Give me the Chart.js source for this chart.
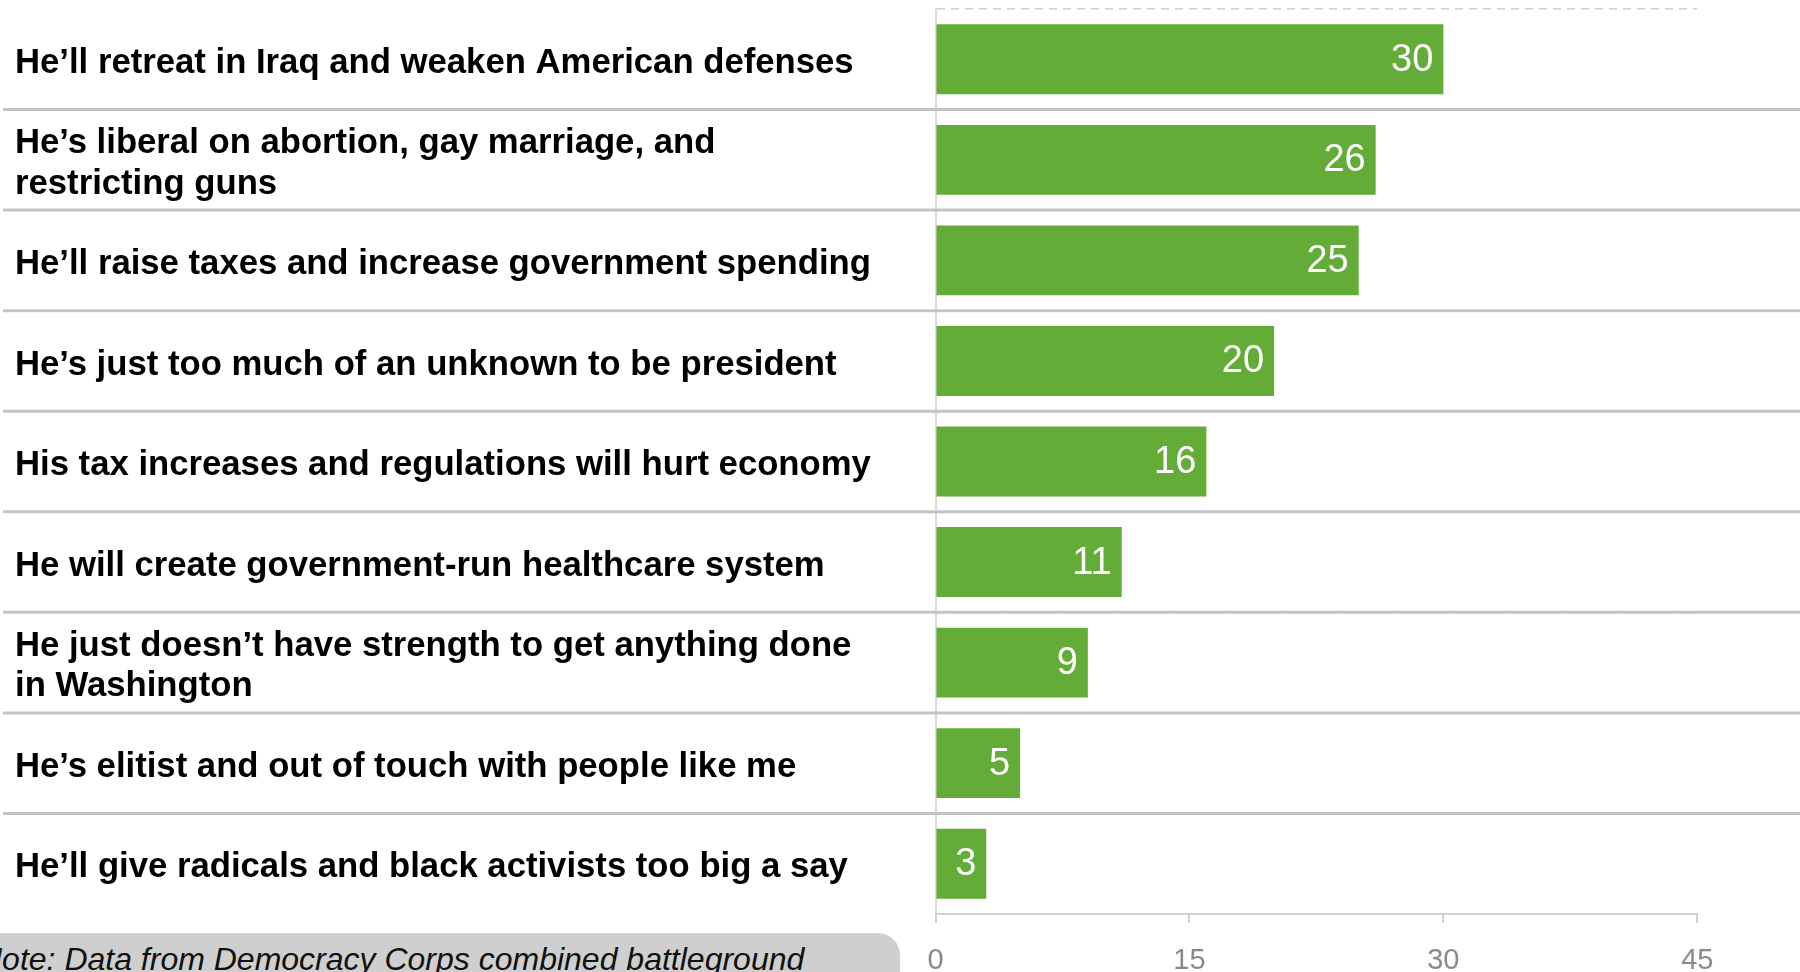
<!DOCTYPE html>
<html>
<head>
<meta charset="utf-8">
<script src="https://cdn.jsdelivr.net/npm/chart.js@4.4.1/dist/chart.umd.min.js"></script>
<style>
  body { margin: 0; overflow: hidden; background: #fff; }
  #caja { position: relative; width: 1800px; height: 972px; overflow: hidden; }
  #nota {
    position: absolute; left: -40px; top: 933px; width: 940px; height: 80px;
    background: #cfcfcf; border-radius: 22px;
  }
  #nota span {
    position: absolute; left: 19px; top: 10px; white-space: nowrap;
    font: italic 32px/1 "Liberation Sans", Arial, sans-serif; color: #111;
  }
</style>
</head>
<body>
<div id="caja">
  <canvas id="RazonesChart" width="1800" height="972"></canvas>
  <div id="nota"><span>Note: Data from Democracy Corps combined battleground</span></div>
</div>
<script>
// Datos del grafico
const razones = [
  "He’ll retreat in Iraq and weaken American defenses",
  ["He’s liberal on abortion, gay marriage, and", "restricting guns"],
  "He’ll raise taxes and increase government spending",
  "He’s just too much of an unknown to be president",
  "His tax increases and regulations will hurt economy",
  "He will create government-run healthcare system",
  ["He just doesn’t have strength to get anything done", "in Washington"],
  "He’s elitist and out of touch with people like me",
  "He’ll give radicals and black activists too big a say"
];
const porcentajes = [30, 26, 25, 20, 16, 11, 9, 5, 3];
const ticksX = [0, 15, 30, 45];

const fuente = '"Liberation Sans", Arial, sans-serif';

// Lineas grises que separan cada fila (de lado a lado)
const separadores = {
  id: 'separadores',
  beforeDatasetsDraw(chart) {
    const ctx = chart.ctx;
    const y = chart.scales.y;
    ctx.save();
    ctx.strokeStyle = '#c4c4c4';
    ctx.lineWidth = 3;
    for (let i = 1; i < razones.length; i++) {
      const py = (y.getPixelForValue(i - 1) + y.getPixelForValue(i)) / 2;
      ctx.beginPath();
      ctx.moveTo(3, py);
      ctx.lineTo(chart.width, py);
      ctx.stroke();
    }
    ctx.restore();
  }
};

// Bajamos un poco los textos de las categorias
let ultimos = null;
const bajarTextos = {
  id: 'bajarTextos',
  beforeDraw(chart) {
    const items = chart.scales.y.getLabelItems();
    if (items !== ultimos) {
      items.forEach(function(it) { it.options.translation[1] += 4; });
      ultimos = items;
    }
  }
};

// Valores en blanco dentro de cada barra
const etiquetas = {
  id: 'etiquetas',
  afterDatasetsDraw(chart) {
    const ctx = chart.ctx;
    const meta = chart.getDatasetMeta(0);
    ctx.save();
    ctx.fillStyle = '#ffffff';
    ctx.font = '38px ' + fuente;
    ctx.textAlign = 'right';
    ctx.textBaseline = 'middle';
    meta.data.forEach(function(bar, i) {
      ctx.fillText(String(porcentajes[i]), bar.x - 10, bar.y + 1);
    });
    ctx.restore();
  }
};

const ctx = document.getElementById('RazonesChart');

new Chart(ctx, {
  type: 'bar',
  data: {
    labels: razones,
    datasets: [{
      data: porcentajes,
      backgroundColor: '#62ac37',
      barPercentage: 0.695,
      categoryPercentage: 1
    }]
  },
  options: {
    indexAxis: 'y',
    responsive: false,
    animation: false,
    layout: { padding: { top: 9, left: 15, right: 102.7, bottom: 0 } },
    plugins: {
      legend: { display: false },
      tooltip: { enabled: false }
    },
    scales: {
      x: {
        min: 0,
        max: 45,
        afterBuildTicks: function(scale) {
          scale.ticks = ticksX.map(function(v) { return { value: v }; });
        },
        afterFit: function(scale) { scale.height = 58; },
        border: { color: '#d0d0d0', width: 2 },
        grid: { drawOnChartArea: false, color: '#d0d0d0', lineWidth: 2, tickLength: 9 },
        ticks: { color: '#8a8a8a', font: { family: fuente, size: 29 }, padding: 21 }
      },
      y: {
        afterFit: function(scale) {
          scale.width = 920.5;
          scale.paddingTop = 0;
          scale.paddingBottom = 0;
        },
        // linea punteada de la cuadricula
        border: { color: '#d9d9d9', width: 2, dash: [8, 6] },
        grid: { offset: true, color: '#d2d2d2', lineWidth: 1.5, drawTicks: false },
        ticks: {
          crossAlign: 'far',
          color: '#000',
          padding: 0,
          autoSkip: false,
          font: { family: fuente, size: 34.7, weight: 'bold', lineHeight: 1.17 }
        }
      }
    }
  },
  plugins: [separadores, bajarTextos, etiquetas]
});
</script>
</body>
</html>
